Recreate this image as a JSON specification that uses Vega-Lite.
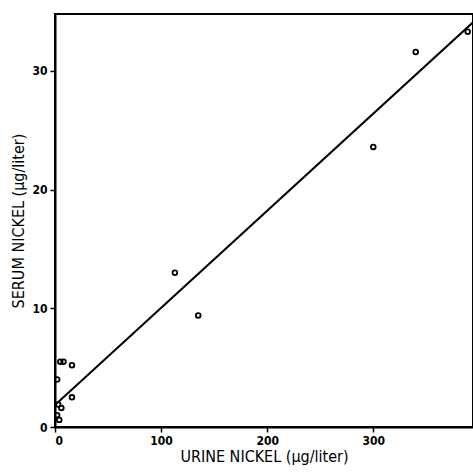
{
  "$schema": "https://vega.github.io/schema/vega-lite/v6.json",
  "autosize": {"type": "none"},
  "padding": {"left": 55, "top": 14, "right": 0, "bottom": 48},
  "width": 418,
  "height": 413,
  "background": "white",
  "config": {
    "view": {"stroke": "black", "strokeWidth": 2},
    "font": "DejaVu Sans Condensed, DejaVu Sans, sans-serif",
    "axis": {
      "grid": false,
      "domainColor": "black",
      "domainWidth": 2,
      "tickColor": "black",
      "tickWidth": 1.5,
      "tickSize": 5,
      "labelFont": "DejaVu Sans Condensed, DejaVu Sans, sans-serif",
      "labelFontSize": 12,
      "labelFontWeight": "bold",
      "labelColor": "black",
      "titleFont": "DejaVu Sans Condensed, DejaVu Sans, sans-serif",
      "titleFontSize": 16,
      "titleFontWeight": "normal",
      "titleColor": "black"
    }
  },
  "datasets": {
    "patients": [
      {"urine": 389, "serum": 33.3},
      {"urine": 340, "serum": 31.6},
      {"urine": 300, "serum": 23.6},
      {"urine": 113, "serum": 13.0},
      {"urine": 135, "serum": 9.4},
      {"urine": 16, "serum": 5.2},
      {"urine": 5, "serum": 5.5},
      {"urine": 8, "serum": 5.5},
      {"urine": 2, "serum": 4.0},
      {"urine": 16, "serum": 2.5},
      {"urine": 3, "serum": 1.9},
      {"urine": 6, "serum": 1.6},
      {"urine": 2, "serum": 1.0},
      {"urine": 4, "serum": 0.6}
    ],
    "fit": [
      {"urine": 0, "serum": 1.85},
      {"urine": 394, "serum": 34.1}
    ]
  },
  "layer": [
    {
      "data": {"name": "fit"},
      "mark": {"type": "line", "color": "black", "strokeWidth": 2},
      "encoding": {
        "x": {
          "field": "urine",
          "type": "quantitative",
          "scale": {"domain": [0, 394], "nice": false},
          "axis": {
            "values": [0, 100, 200, 300],
            "title": "URINE NICKEL (µg/liter)",
            "labelPadding": 3,
            "titlePadding": 2
          }
        },
        "y": {
          "field": "serum",
          "type": "quantitative",
          "scale": {"domain": [0, 34.8], "nice": false},
          "axis": {
            "values": [0, 10, 20, 30],
            "title": "SERUM NICKEL (µg/liter)",
            "labelPadding": 3,
            "titlePadding": 5
          }
        }
      }
    },
    {
      "data": {"name": "patients"},
      "mark": {"type": "point", "shape": "circle", "filled": false, "color": "black", "strokeWidth": 1.8, "size": 22, "opacity": 1},
      "encoding": {
        "x": {"field": "urine", "type": "quantitative"},
        "y": {"field": "serum", "type": "quantitative"}
      }
    }
  ]
}
